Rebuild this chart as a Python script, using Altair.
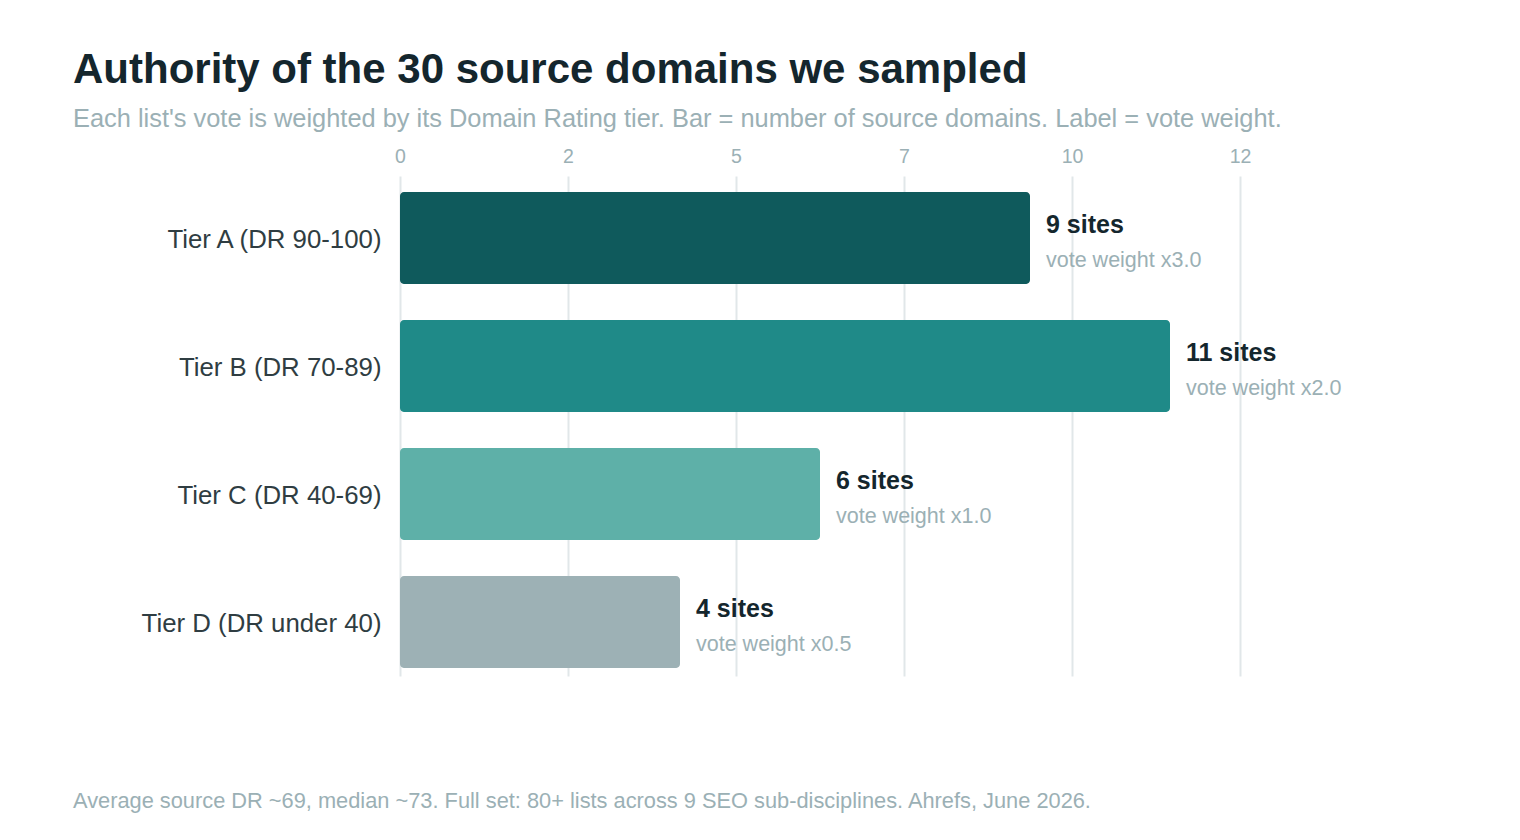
import altair as alt
import pandas as pd

tiers = ["Tier A (DR 90-100)", "Tier B (DR 70-89)", "Tier C (DR 40-69)", "Tier D (DR under 40)"]
sites = [9, 11, 6, 4]
weights = ["x3.0", "x2.0", "x1.0", "x0.5"]
colors = ["#0f5a5c", "#1f8a88", "#5eb0a8", "#9db1b5"]
tick_values = [0, 2.4, 4.8, 7.2, 9.6, 12]

title = "Authority of the 30 source domains we sampled"
subtitle = "Each list's vote is weighted by its Domain Rating tier. Bar = number of source domains. Label = vote weight."
footer = "Average source DR ~69, median ~73. Full set: 80+ lists across 9 SEO sub-disciplines. Ahrefs, June 2026."

FONT = "Liberation Sans"
GRAY = "#9bb0b5"
DARK = "#14262d"

df = pd.DataFrame({"tier": tiers, "sites": sites, "weight": weights})
df["site_label"] = df["sites"].astype(str) + " sites"
df["weight_label"] = "vote weight " + df["weight"]

y = alt.Y(
    "tier:N",
    sort=tiers,
    scale=alt.Scale(paddingInner=0.28125, paddingOuter=0.09375, align=0.667),
    axis=alt.Axis(title=None, domain=False, ticks=False, grid=False, labelLimit=0,
                  labelFontSize=25.8, labelColor="#2f3d42", labelPadding=19,
                  labelOffset=2, labelFont=FONT),
)
x = alt.X(
    "sites:Q",
    scale=alt.Scale(domain=[0, 12], nice=False, zero=True),
    axis=alt.Axis(orient="top", values=tick_values, format=".0f", title=None,
                  domain=False, ticks=False, labelFlush=False, labelFontSize=19.5,
                  labelColor=GRAY, labelPadding=10, gridColor="#e1e7e9", gridWidth=2,
                  labelFont=FONT),
)

base = alt.Chart(df)

bars = base.mark_bar(cornerRadius=4).encode(
    x=x,
    y=y,
    color=alt.Color("tier:N", scale=alt.Scale(domain=tiers, range=colors), legend=None),
)

lab1 = base.mark_text(align="left", baseline="alphabetic", dx=16, dy=-5,
                      fontSize=25, fontWeight="bold", color=DARK, font=FONT).encode(
    x="sites:Q", y=alt.Y("tier:N", sort=tiers), text="site_label:N")

lab2 = base.mark_text(align="left", baseline="alphabetic", dx=16, dy=29,
                      fontSize=21.5, color=GRAY, font=FONT).encode(
    x="sites:Q", y=alt.Y("tier:N", sort=tiers), text="weight_label:N")

foot = alt.Chart(pd.DataFrame({"t": [footer]})).mark_text(
    align="left", baseline="alphabetic", fontSize=21.8, color=GRAY, font=FONT
).encode(x=alt.value(-327), y=alt.value(632), text="t:N")

chart = alt.layer(bars, lab1, lab2, foot).properties(
    width=840,
    height=500,
    background="white",
    autosize=alt.AutoSizeParams(type="none"),
    padding={"left": 400, "top": 176, "right": 280, "bottom": 164},
    title=alt.TitleParams(
        text=title, subtitle=subtitle, anchor="start", frame="group", dx=-327,
        font=FONT, fontSize=42, fontWeight="bold", color=DARK,
        subtitleFont=FONT, subtitleFontSize=25.4, subtitleColor=GRAY,
        subtitlePadding=15, offset=13,
    ),
).configure_view(stroke=None, strokeWidth=0)

chart.save("out.html", embed_options={"renderer": "svg", "actions": False})
